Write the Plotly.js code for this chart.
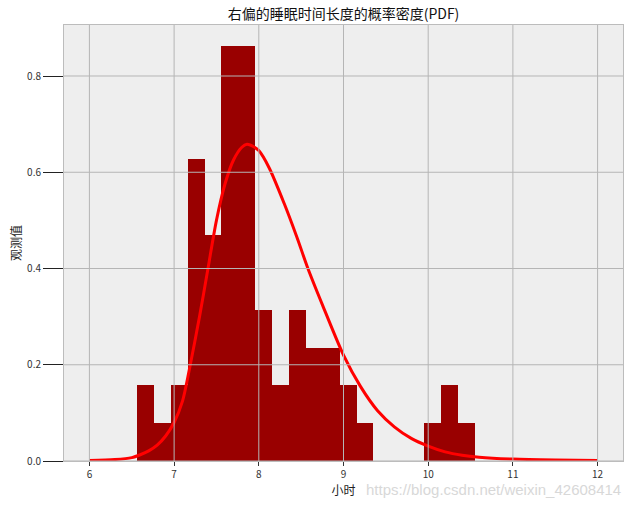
<!DOCTYPE html>
<html>
<head>
<meta charset="utf-8">
<script src="https://cdn.plot.ly/plotly-3.0.1.min.js"></script>
<style>html,body{margin:0;padding:0;background:#fff;}</style>
</head>
<body>
<div id="chart" style="width:633px;height:505px;"></div>
<script>
// Histogram bins (centers, hours) and densities
var binCenters = [6.663, 6.862, 7.061, 7.261, 7.460, 7.659, 7.858, 8.058, 8.257, 8.456,
                  8.656, 8.855, 9.054, 9.253, 9.453, 9.652, 9.851, 10.051, 10.250, 10.449];
var binDensity = [0.157, 0.078, 0.157, 0.627, 0.470, 0.863, 0.863, 0.314, 0.157, 0.314,
                  0.235, 0.235, 0.157, 0.078, 0, 0, 0, 0.078, 0.157, 0.078];
var binWidth = 0.1993;

// Fitted PDF curve
var pdfX = [6.0, 6.3, 6.5, 6.6, 6.7, 6.8, 6.9, 7.0, 7.1, 7.18, 7.3, 7.4, 7.5, 7.6, 7.7, 7.8, 7.86,
            7.95, 8.0, 8.12, 8.3, 8.45, 8.58, 8.75, 9.0, 9.2, 9.4, 9.6, 9.8, 10.0, 10.2, 10.4, 10.6,
            11.0, 11.5, 12.0];
var pdfY = [0.001, 0.003, 0.007, 0.013, 0.021, 0.033, 0.052, 0.08, 0.125, 0.19, 0.30, 0.40, 0.50,
            0.575, 0.625, 0.652, 0.658, 0.652, 0.645, 0.61, 0.535, 0.465, 0.40, 0.325, 0.22, 0.155,
            0.105, 0.071, 0.047, 0.031, 0.019, 0.012, 0.008, 0.004, 0.002, 0.001];

var xTicks = [6, 7, 8, 9, 10, 11, 12];
var yTicks = [0, 0.2, 0.4, 0.6, 0.8];

var titleText = '右偏的睡眠时间长度的概率密度(PDF)';
var xTitle = '小时';
var yTitle = '观测值';

var cjk = '"Noto Sans CJK SC", "DejaVu Sans", sans-serif';

var traces = [
  {
    type: 'bar',
    x: binCenters,
    y: binDensity,
    width: binWidth,
    marker: {color: '#990000', line: {width: 0}},
    hoverinfo: 'skip'
  },
  {
    type: 'scatter',
    mode: 'lines',
    x: pdfX,
    y: pdfY,
    line: {color: '#ff0000', width: 3, shape: 'spline', smoothing: 0.8},
    hoverinfo: 'skip'
  }
];

var gridColor = '#b5b5b5';
var shapes = [];
xTicks.forEach(function (v) {
  shapes.push({type: 'line', xref: 'x', yref: 'paper', x0: v, x1: v, y0: 0, y1: 1,
               line: {color: gridColor, width: 1}, layer: 'above'});
});
yTicks.forEach(function (v) {
  shapes.push({type: 'line', xref: 'paper', yref: 'y', x0: 0, x1: 1, y0: v, y1: v,
               line: {color: gridColor, width: 1}, layer: 'above'});
});

var layout = {
  width: 633,
  height: 505,
  margin: {l: 64, r: 10, t: 25, b: 44, pad: 0},
  paper_bgcolor: '#ffffff',
  plot_bgcolor: '#eeeeee',
  showlegend: false,
  bargap: 0,
  font: {family: cjk, size: 10, color: '#222222'},
  title: {
    text: titleText,
    font: {family: cjk, size: 14, color: '#111111'},
    x: 343.5 / 633, xanchor: 'center', xref: 'container',
    y: 1 - 14 / 505, yanchor: 'middle', yref: 'container'
  },
  xaxis: {
    range: [5.7, 12.3],
    tickvals: xTicks,
    ticktext: xTicks.map(String),
    showgrid: false,
    zeroline: false,
    showline: true, mirror: true, linecolor: '#bcbcbc', linewidth: 1,
    ticks: 'outside', ticklen: 4, tickwidth: 1, tickcolor: '#333333',
    tickfont: {family: cjk, size: 10, color: '#333333'},
    title: {text: xTitle, font: {family: cjk, size: 12, color: '#222222'}, standoff: 0}
  },
  yaxis: {
    range: [0, 0.906],
    tickvals: yTicks,
    ticktext: yTicks.map(function (v) { return v.toFixed(1); }),
    showgrid: false,
    zeroline: false,
    showline: true, mirror: true, linecolor: '#bcbcbc', linewidth: 1,
    ticks: 'outside', ticklen: 20, tickwidth: 1, tickcolor: '#222222',
    tickfont: {family: cjk, size: 10, color: '#333333'},
    title: {text: yTitle, font: {family: cjk, size: 12, color: '#222222'}, standoff: 2}
  },
  shapes: shapes,
  annotations: [
    {
      text: 'https://blog.csdn.net/weixin_42608414',
      xref: 'paper', yref: 'paper',
      x: 1.0, xanchor: 'right',
      y: -28 / 436, yanchor: 'middle',
      showarrow: false,
      font: {family: 'Liberation Sans, Arial, sans-serif', size: 15, color: '#d8d8d8'}
    }
  ]
};

Plotly.newPlot('chart', traces, layout, {displayModeBar: false, staticPlot: true});
</script>
</body>
</html>
